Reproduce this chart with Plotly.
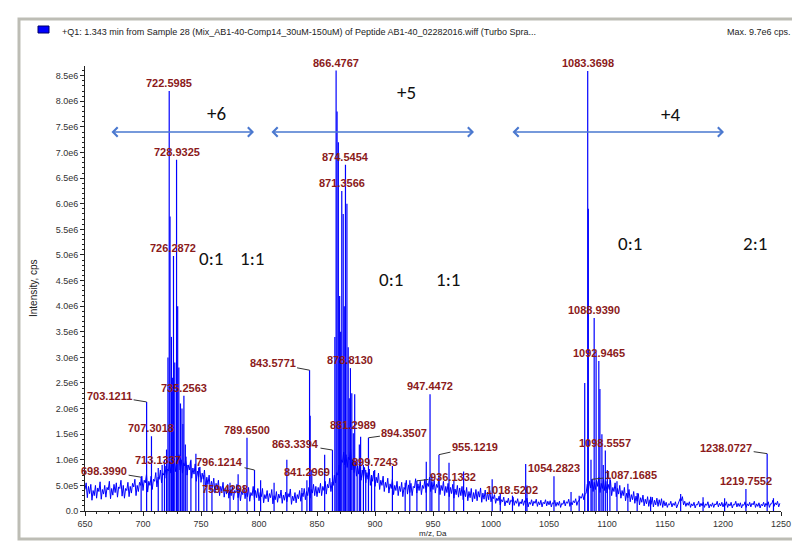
import plotly.graph_objects as go

# ---------------- data ----------------
# baseline noise, intensity in units of 1e4 cps
# even m/z points (650..1248)
base_mz_even = list(range(650, 1250, 2))
base_int_even = [
    42, 26, 34, 21, 30, 25, 38, 23, 33, 27, 41, 24, 31, 36, 27, 44, 29, 25, 40, 28, 35, 47, 30, 38, 50,
    40, 55, 37, 50, 42, 58, 47, 62, 55, 70, 64, 78, 74, 85, 77, 92, 80, 74, 88, 70, 80, 64, 72, 58, 66,
    56, 62, 47, 52, 40, 46, 35, 42, 30, 38, 27, 33, 25, 30, 22, 35, 26, 20, 32, 24, 28, 19, 30, 22, 26,
    20, 28, 16, 24, 18, 26, 14, 22, 17, 25, 15, 21, 18, 27, 13, 20, 16, 24, 19, 28, 22, 30, 25, 35, 30,
    28, 35, 30, 40, 33, 45, 38, 50, 55, 70, 80, 95, 90, 85, 100, 80, 75, 68, 72, 60, 65, 55, 62, 50, 58,
    48, 55, 42, 50, 38, 46, 35, 44, 32, 40, 30, 38, 28, 42, 33, 36, 30, 45, 35, 40, 32, 44, 36, 48, 38,
    42, 35, 46, 32, 40, 30, 36, 28, 34, 25, 32, 27, 30, 22, 28, 20, 26, 18, 24, 20, 27, 17, 23, 19, 22,
    18, 24, 15, 20, 12, 18, 10, 16, 12, 19, 11, 15, 9, 14, 11, 17, 8, 13, 10, 15, 9, 12, 8, 14, 10,
    12, 8, 14, 9, 11, 7, 13, 10, 15, 9, 12, 16, 11, 20, 25, 22, 35, 40, 45, 38, 42, 48, 36, 44, 40,
    35, 42, 30, 38, 28, 33, 25, 30, 20, 26, 18, 22, 15, 19, 12, 17, 10, 14, 9, 13, 8, 12, 9, 11, 7,
    10, 7, 12, 8, 11, 6, 16, 20, 12, 9, 11, 7, 10, 6, 12, 8, 10, 7, 11, 6, 9, 7, 12, 8, 10,
    8, 11, 7, 10, 6, 12, 8, 9, 6, 11, 7, 10, 8, 12, 7, 9, 6, 10, 8, 11, 7, 14, 9, 12, 8,
]
# odd m/z points (651..1249)
base_mz_odd = list(range(651, 1251, 2))
base_int_odd = [
    55, 48, 52, 40, 50, 45, 57, 42, 50, 46, 58, 44, 52, 55, 47, 60, 50, 44, 56, 48, 54, 62, 50, 56, 68,
    60, 72, 58, 68, 62, 75, 66, 80, 74, 88, 82, 96, 92, 104, 95, 110, 100, 94, 106, 90, 98, 84, 92, 78, 86,
    74, 80, 66, 70, 58, 64, 54, 60, 48, 56, 45, 52, 42, 48, 40, 52, 44, 38, 50, 42, 46, 36, 48, 40, 44,
    36, 44, 32, 40, 34, 42, 30, 38, 33, 41, 31, 37, 34, 43, 29, 36, 32, 40, 35, 44, 38, 46, 42, 52, 48,
    46, 54, 48, 58, 52, 64, 56, 70, 75, 90, 100, 115, 110, 105, 120, 100, 95, 88, 92, 80, 85, 75, 82, 70, 78,
    66, 74, 60, 68, 56, 64, 53, 62, 50, 58, 48, 56, 46, 60, 51, 54, 48, 63, 53, 58, 50, 62, 54, 66, 56,
    60, 52, 64, 50, 58, 48, 54, 46, 52, 43, 50, 45, 48, 40, 46, 38, 44, 36, 42, 38, 45, 35, 41, 37, 40,
    28, 32, 25, 29, 22, 27, 20, 25, 21, 27, 20, 24, 18, 23, 20, 25, 17, 22, 19, 23, 18, 21, 17, 22, 19,
    20, 16, 21, 17, 19, 15, 21, 18, 23, 17, 20, 24, 19, 28, 34, 32, 52, 58, 62, 56, 60, 66, 54, 62, 58,
    52, 60, 46, 55, 44, 50, 40, 46, 35, 42, 32, 38, 29, 34, 26, 31, 23, 28, 22, 27, 21, 25, 22, 24, 20,
    17, 14, 19, 15, 18, 13, 24, 28, 19, 16, 18, 14, 17, 13, 19, 15, 17, 14, 18, 13, 16, 14, 19, 15, 17,
    15, 18, 14, 17, 13, 19, 15, 16, 13, 18, 14, 17, 15, 19, 14, 16, 13, 17, 15, 18, 14, 21, 16, 19, 15,
]

# labelled peaks (m/z, intensity in 1e6 cps)
lab_mz = [698.3990, 703.1211, 707.3018, 713.1337, 722.5985, 726.2872, 728.9325, 735.2563,
          759.4298, 789.6500, 796.1214, 841.2969, 843.5771, 863.3394, 866.4767, 871.3566,
          874.5454, 878.8130, 881.2989, 894.3507, 899.7243, 936.1332, 947.4472, 955.1219,
          1018.5202, 1054.2823, 1083.3698, 1087.1685, 1088.9390, 1092.9465, 1098.5557,
          1219.7552, 1238.0727]
lab_int = [0.66, 2.13, 1.46, 0.84, 8.20, 4.98, 6.86, 2.25,
           0.50, 1.43, 0.80, 0.60, 2.75, 1.19, 8.60, 6.25,
           6.76, 2.79, 1.52, 1.43, 0.80, 0.59, 2.28, 1.10,
           0.30, 0.68, 8.59, 0.62, 3.77, 2.93, 1.18,
           0.43, 1.12]

# unlabelled peaks (m/z, intensity in 1e6 cps)
pk_mz = [716.5, 718.5, 720.3, 721.5, 723.3, 724.5, 725.3, 727.4, 729.9, 730.9, 732.3, 733.6,
         734.4, 736.5, 738.0, 741.3, 745.6, 748.0, 752.5, 755.0, 775.0, 782.0, 801.4, 813.0,
         824.0, 837.0, 844.1, 845.5, 856.6, 865.4, 867.3, 868.4, 869.5, 870.4, 872.6, 873.5,
         875.8, 876.9, 877.8, 880.0, 882.5, 884.6, 886.5, 887.6, 890.0, 892.0, 897.0, 915.0,
         926.0, 930.0, 944.2, 949.0, 963.8, 968.0, 976.4, 1001.0, 1008.0, 1029.9, 1031.0,
         1069.0, 1076.0, 1080.8, 1083.9, 1086.2, 1090.6, 1093.9, 1095.6, 1096.8, 1100.3,
         1102.5, 1108.6, 1118.0, 1126.0, 1137.6, 1163.5, 1182.8, 1201.4, 1243.5]
pk_int = [0.90, 1.00, 1.20, 3.00, 5.75, 3.40, 2.60, 2.90, 4.00, 2.80, 2.10, 2.00,
          1.70, 1.30, 0.90, 1.00, 1.12, 0.85, 0.70, 0.60, 0.55, 0.72, 0.60, 0.55,
          1.00, 0.45, 1.86, 0.80, 1.10, 3.40, 7.80, 7.20, 4.20, 3.50, 5.80, 4.00,
          6.00, 3.20, 2.20, 2.30, 2.28, 1.00, 1.30, 1.45, 0.90, 0.80, 0.70, 0.88,
          0.55, 0.60, 0.96, 0.70, 0.94, 0.60, 0.77, 0.62, 0.35, 0.92, 0.50,
          0.37, 0.30, 2.50, 5.90, 1.00, 3.10, 2.38, 1.50, 0.90, 0.80,
          0.65, 0.58, 0.53, 0.35, 0.28, 0.33, 0.27, 0.25, 0.25]

x_ticks = list(range(650, 1251, 50))
y_ticks = [i * 5e5 for i in range(18)]
y_ticktext = ["0.0", "5.0e5", "1.0e6", "1.5e6", "2.0e6", "2.5e6", "3.0e6", "3.5e6", "4.0e6",
              "4.5e6", "5.0e6", "5.5e6", "6.0e6", "6.5e6", "7.0e6", "7.5e6", "8.0e6", "8.5e6"]

charge_text = ["+6", "+5", "+4"]
ratio_text = ["0:1", "1:1", "0:1", "1:1", "0:1", "2:1"]

# ---------------- layout helpers ----------------
W, H = 800, 547
ML, MR, MT, MB = 77, 27, 58, 44
PW, PH = W - ML - MR, H - MT - MB
X0, X1 = 650, 1250
Y_TOP = 8.69e6


def xp(px):
    return (px - ML) / PW


def yp(py):
    return (H - MB - py) / PH


def dx(px):
    return X0 + (px - ML) / PW * (X1 - X0)


def dy(py):
    return (H - MB - py) / PH * Y_TOP


# label offsets (pixels from peak top to label centre), connector flag
lab_off = [(-37, -6, True), (-37, -6, True), (0, -8, False), (0, -8, False), (0, -8, False),
           (0, -8, False), (0, -8, False), (0, -8, False), (13, 4, False), (0, -8, False),
           (-35, -8, True), (0, -8, False), (-37, -7, True), (-37, -6, True), (0, -8, False),
           (0, -8, False), (0, -8, False), (0, -8, False), (0, -8, False), (36, -5, True),
           (0, -8, False), (36, -4, True), (0, -8, False), (36, -8, True), (0, -6, False),
           (0, -8, False), (0, -8, False), (39, -4, True), (0, -8, False), (0, -8, False),
           (0, -8, False), (0, -8, False), (-41, -6, True)]

fig = go.Figure()

# noise baseline (even and odd samples merged in m/z order)
noise = sorted(list(zip(base_mz_even, base_int_even)) + list(zip(base_mz_odd, base_int_odd)))
fig.add_trace(go.Scatter(x=[p[0] for p in noise], y=[p[1] * 1e4 for p in noise], mode="lines",
                         line=dict(color="#0000ff", width=1), hoverinfo="skip", showlegend=False))

# peaks as sticks
sx, sy = [], []
for m, h in list(zip(lab_mz, lab_int)) + list(zip(pk_mz, pk_int)):
    sx += [m, m, None]
    sy += [0, h * 1e6, None]
fig.add_trace(go.Scatter(x=sx, y=sy, mode="lines", line=dict(color="#0000ff", width=1.2),
                         hoverinfo="skip", showlegend=False))

ann = []
lab_font = dict(family="Liberation Sans, Arial", size=11, color="#8b1a1a")
for m, h, (ox, oy, conn) in zip(lab_mz, lab_int, lab_off):
    txt = f"<b>{m:.4f}</b>"
    if conn:
        ann.append(dict(x=m, y=h * 1e6, xref="x", yref="y", text=txt, font=lab_font,
                        showarrow=True, ax=ox, ay=oy, arrowhead=0, arrowwidth=1,
                        arrowcolor="#333333", standoff=0, startstandoff=0))
    else:
        ann.append(dict(x=m, y=h * 1e6, xref="x", yref="y", text=txt, font=lab_font,
                        showarrow=False, xanchor="center", yanchor="middle",
                        xshift=ox, yshift=-oy))

# charge-state double arrows
arrow_px = [(102, 246), (262, 466), (503, 716)]
arrow_y = dy(124)
for a, b in arrow_px:
    ann.append(dict(x=dx(b), y=arrow_y, ax=dx(a), ay=arrow_y, xref="x", yref="y",
                    axref="x", ayref="y", text="", showarrow=True, arrowside="end+start",
                    arrowhead=4, startarrowhead=4, arrowsize=1.4, startarrowsize=1.4,
                    arrowwidth=1.3, arrowcolor="#4a78cf", standoff=0, startstandoff=0))

big_font = dict(family="Carlito, Lato, Open Sans", size=19, color="#111111")
charge_px = [(208, 105), (398, 84), (662, 106)]
for t, (px, py) in zip(charge_text, charge_px):
    ann.append(dict(x=dx(px), y=dy(py), xref="x", yref="y", text=t, showarrow=False,
                    font=big_font, xanchor="center", yanchor="middle"))
ratio_px = [(203, 250), (244, 250), (383, 271), (440, 271), (622, 235), (747, 235)]
for t, (px, py) in zip(ratio_text, ratio_px):
    ann.append(dict(x=dx(px), y=dy(py), xref="x", yref="y", text=t, showarrow=False,
                    font=big_font, xanchor="center", yanchor="middle"))

# header texts
hdr_font = dict(family="Liberation Sans, Arial", size=9, color="#222222")
ann.append(dict(x=xp(52), y=yp(24), xref="paper", yref="paper", xanchor="left", yanchor="middle",
                showarrow=False, font=hdr_font,
                text="+Q1: 1.343 min from Sample 28 (Mix_AB1-40-Comp14_30uM-150uM) of Peptide "
                     "AB1-40_02282016.wiff (Turbo Spra..."))
ann.append(dict(x=xp(785), y=yp(24), xref="paper", yref="paper", xanchor="right",
                yanchor="middle", showarrow=False, font=hdr_font, text="Max. 9.7e6 cps."))
ann.append(dict(x=xp(25), y=yp(280), xref="paper", yref="paper", xanchor="center",
                yanchor="middle", showarrow=False, textangle=-90,
                font=dict(family="Liberation Sans, Arial", size=10, color="#222222"),
                text="Intensity, cps"))
ann.append(dict(x=xp(425), y=yp(525), xref="paper", yref="paper", xanchor="center",
                yanchor="middle", showarrow=False,
                font=dict(family="Liberation Sans, Arial", size=8, color="#222222"),
                text="m/z, Da"))

shapes = [
    dict(type="rect", xref="paper", yref="paper", x0=xp(11), x1=xp(789), y0=yp(531), y1=yp(11),
         line=dict(color="#bdbdb5", width=3), layer="below"),
    dict(type="rect", xref="paper", yref="paper", x0=xp(30), x1=xp(41), y0=yp(25), y1=yp(18),
         line=dict(color="#000066", width=1), fillcolor="#0000ff"),
]

tick_font = dict(family="Liberation Sans, Arial", size=9, color="#333333")
fig.update_layout(
    width=W, height=H, margin=dict(l=ML, r=MR, t=MT, b=MB),
    paper_bgcolor="white", plot_bgcolor="white",
    annotations=ann, shapes=shapes, showlegend=False,
    xaxis=dict(range=[X0, X1], tickmode="array", tickvals=x_ticks,
               ticktext=[str(v) for v in x_ticks], showgrid=False, zeroline=False,
               showline=True, linecolor="#222222", linewidth=1, ticks="outside", ticklen=4,
               tickcolor="#222222", tickfont=tick_font,
               minor=dict(tickmode="linear", tick0=650, dtick=10, ticks="outside", ticklen=2,
                          tickcolor="#222222")),
    yaxis=dict(range=[0, Y_TOP], tickmode="array", tickvals=y_ticks, ticktext=y_ticktext,
               showgrid=False, zeroline=False, showline=True, linecolor="#222222",
               linewidth=1, ticks="outside", ticklen=4, tickcolor="#222222",
               tickfont=tick_font,
               minor=dict(tickmode="linear", tick0=0, dtick=1e5, ticks="outside", ticklen=2,
                          tickcolor="#222222")),
)

fig.write_html("out.html")
